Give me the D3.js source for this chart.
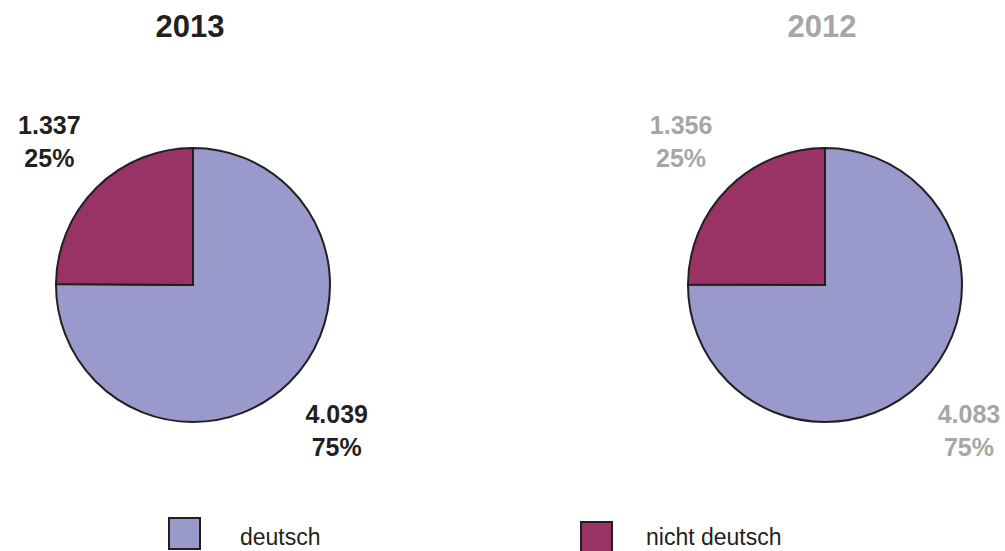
<!DOCTYPE html>
<html>
<head>
<meta charset="utf-8">
<script src="https://cdn.jsdelivr.net/npm/d3@7"></script>
<style>
  body { margin: 0; background: #fff; }
  svg { font-family: "Liberation Sans", Arial, sans-serif; }
</style>
</head>
<body>
<div id="chart"></div>
<script>
// data
const categories = ['deutsch', 'nicht deutsch'];
const years = ['2013', '2012'];
const values2013 = [4039, 1337];
const values2012 = [4083, 1356];
const percentLabels2013 = ['75%', '25%'];
const percentLabels2012 = ['75%', '25%'];

const colors = ['#9999cc', '#993366'];
const textColors = ['#231f20', '#a6a6a8'];

const width = 1005;
const height = 551;
const radius = 137;

const svg = d3.select('#chart').append('svg')
  .attr('width', width)
  .attr('height', height);

const xPos = d3.scalePoint().domain(years).range([193, 825]);
const color = d3.scaleOrdinal().domain(categories).range(colors);

const pie = d3.pie().sort(null).value((d) => d.value);
const arc = d3.arc().innerRadius(0).outerRadius(radius);
const labelArc = d3.arc().innerRadius(204).outerRadius(204);

const fmt = d3.formatLocale({ decimal: ',', thousands: '.', grouping: [3], currency: ['', '€'] }).format(',');

const series = [
  { year: '2013', values: values2013, pct: percentLabels2013, textColor: textColors[0] },
  { year: '2012', values: values2012, pct: percentLabels2012, textColor: textColors[1] },
];

series.forEach((s) => {
  const data = categories.map((c, i) => ({ cat: c, value: s.values[i], pct: s.pct[i] }));
  const g = svg.append('g')
    .attr('transform', `translate(${xPos(s.year)},285)`);

  g.append('text')
    .attr('x', -3)
    .attr('y', -248)
    .attr('text-anchor', 'middle')
    .attr('font-size', 31)
    .attr('font-weight', 'bold')
    .attr('fill', s.textColor)
    .text(s.year);

  g.selectAll('path')
    .data(pie(data))
    .join('path')
    .attr('d', arc)
    .attr('fill', (d) => color(d.data.cat))
    .attr('stroke', '#231f20')
    .attr('stroke-width', 2)
    .attr('stroke-linejoin', 'round');

  const labels = g.selectAll('text.lbl')
    .data(pie(data))
    .join('text')
    .attr('class', 'lbl')
    .attr('text-anchor', 'middle')
    .attr('font-size', 25)
    .attr('font-weight', 'bold')
    .attr('fill', s.textColor)
    .attr('transform', (d) => {
      const [x, y] = labelArc.centroid(d);
      return `translate(${x},${y})`;
    });
  labels.append('tspan').attr('x', 0).attr('y', -6.5).text((d) => fmt(d.data.value));
  labels.append('tspan').attr('x', 0).attr('y', 26.5).text((d) => d.data.pct);
});

// legend
const legendX = d3.scalePoint().domain(categories).range([169, 581]);
const legendY = { 'deutsch': 518, 'nicht deutsch': 522 };
const legend = svg.selectAll('g.legend')
  .data(categories)
  .join('g')
  .attr('class', 'legend')
  .attr('transform', (d) => `translate(${legendX(d)},${legendY[d]})`);

legend.append('rect')
  .attr('width', 31)
  .attr('height', 31)
  .attr('fill', (d) => color(d))
  .attr('stroke', '#231f20')
  .attr('stroke-width', 2);

legend.append('text')
  .attr('x', (d, i) => (i === 0 ? 71 : 65))
  .attr('y', (d, i) => (i === 0 ? 27 : 23))
  .attr('font-size', 23)
  .attr('fill', '#231f20')
  .text((d) => d);
</script>
</body>
</html>
